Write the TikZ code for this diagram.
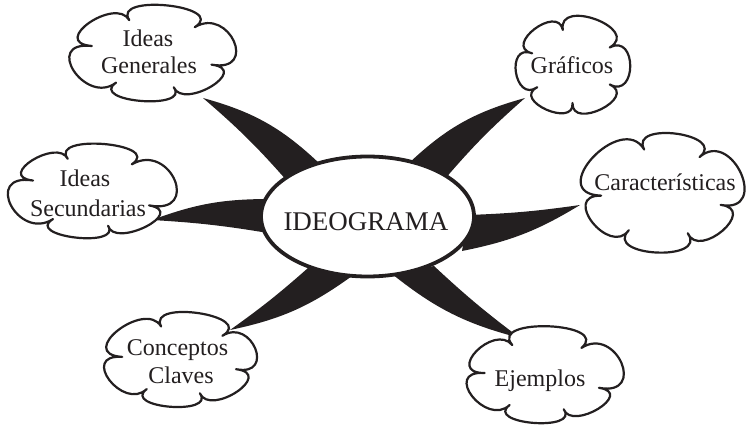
\documentclass[tikz,border=0pt]{standalone}
\usepackage{fontspec}
\setmainfont{Liberation Serif}
\usetikzlibrary{shapes.geometric}
\definecolor{ink}{RGB}{35,31,32}
% #1 centre, #2 x radius, #3 y radius, #4 first notch angle, #5 notch pairs
\newcommand{\puffcloud}[5]{%
  \filldraw[cloudline, shift={(#1)}, xscale=#2, yscale=#3] (#4:1)
    foreach \a/\b in {#5} { .. controls +({(\a+\b)/2-32}:{1.5*sin((\b-\a)/2)})
       and +({(\a+\b)/2+32}:{1.5*sin((\b-\a)/2)}) .. (\b:1) } -- cycle;}
\begin{document}
\begin{tikzpicture}[x=1pt,y=1pt,
  cloudline/.style={draw=ink, line width=2.2pt, fill=white, line join=round},
  cloudtext/.style={font=\fontsize{24}{28}\selectfont, text=ink, anchor=base, inner sep=0pt},
  hubtext/.style={font=\fontsize{27}{32}\selectfont, text=ink, anchor=base, inner sep=0pt},
  hub/.style={ellipse, draw=ink, line width=3.8pt, fill=white, inner sep=0pt},
  branch/.style={fill=ink, draw=none}]
\useasboundingbox (0,0) rectangle (746,426);

% cloud centres
\coordinate (gen) at (152.5,372.5);
\coordinate (gra) at (572.5,360);
\coordinate (car) at (662,233.5);
\coordinate (sec) at (92,234.5);
\coordinate (con) at (180,66);
\coordinate (eje) at (543.5,50.5);

% branch coordinates
\coordinate (ulT) at (203,328); \coordinate (ulA) at (320,262); \coordinate (ulB) at (288,244);
\coordinate (urT) at (525,328); \coordinate (urA) at (408,262); \coordinate (urB) at (444,246);
\coordinate (lT)  at (152,206); \coordinate (lA)  at (268,227); \coordinate (lB)  at (268,193);
\coordinate (llT) at (230,96);  \coordinate (llA) at (308,158); \coordinate (llB) at (352,150);
\coordinate (lrT) at (520,88);  \coordinate (lrA) at (434,160); \coordinate (lrB) at (392,152);
\coordinate (rT)  at (580,221); \coordinate (rA)  at (468,211); \coordinate (rB)  at (462,175);

\fill[branch] (ulT) to[bend left=14] (ulA) -- (ulB) to[bend right=4] (ulT) -- cycle;
\fill[branch] (urT) to[bend right=14] (urA) -- (urB) to[bend left=4] (urT) -- cycle;
\fill[branch] (lT) to[bend left=10] (lA) -- (lB) to[bend right=3] (lT) -- cycle;
\fill[branch] (llT) to[bend right=3] (llA) -- (llB) to[bend left=12] (llT) -- cycle;
\fill[branch] (lrT) to[bend left=3] (lrA) -- (lrB) to[bend right=12] (lrT) -- cycle;
\fill[branch] (rT) to[bend left=3] (rA) -- (rB) to[bend right=10] (rT) -- cycle;

% hub
\node[hub, minimum width=213, minimum height=120] (hubn) at (367.5,209.5) {};
\node[hubtext] (hubt) at (366,196) {IDEOGRAMA};

% clouds
\puffcloud{gen}{62}{36}{47}{47/112,112/168,168/234,234/290,290/342,342/407}
\puffcloud{gra}{43}{37}{30}{30/103,103/160,160/215,215/270,270/330,330/390}
\puffcloud{car}{61}{45}{52}{52/107,107/184,184/237,237/295,295/344,344/412}
\puffcloud{sec}{62}{35.5}{50}{50/113,113/162,162/231,231/285,285/337,337/410}
\puffcloud{con}{58}{35.5}{43}{43/109,109/175,175/235,235/290,290/345,345/403}
\puffcloud{eje}{59}{36}{50}{50/122,122/176,176/235,235/290,290/340,340/410}

\node[cloudtext] (gen1) at (148,379) {Ideas};
\node[cloudtext] (gen2) at (149,352) {Generales};
\node[cloudtext] (gra1) at (572,352) {Gráficos};
\node[cloudtext] (car1) at (665,235) {Características};
\node[cloudtext] (sec1) at (85,239) {Ideas};
\node[cloudtext] (sec2) at (88,209) {Secundarias};
\node[cloudtext] (con1) at (177.5,71) {Conceptos};
\node[cloudtext] (con2) at (181,43) {Claves};
\node[cloudtext] (eje1) at (540,40) {Ejemplos};
\end{tikzpicture}
\end{document}
